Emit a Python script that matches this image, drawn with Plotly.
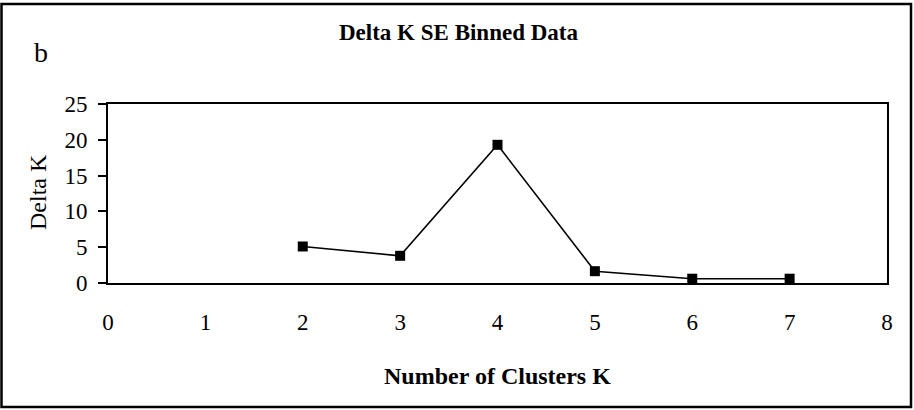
import plotly.graph_objects as go

# Data
k_values = [2, 3, 4, 5, 6, 7]
delta_k = [5.1, 3.8, 19.3, 1.65, 0.6, 0.6]
x_ticks = [0, 1, 2, 3, 4, 5, 6, 7, 8]
y_ticks = [0, 5, 10, 15, 20, 25]

W, H = 914, 410
L, R, T, B = 108, 887, 104, 283  # plot area pixel edges
pw, ph = R - L, B - T

def px(x):
    return (x - L) / pw

def py(y):
    return (B - y) / ph

FONT = "Liberation Serif, Times New Roman, serif"

fig = go.Figure()
fig.add_trace(go.Scatter(
    x=k_values, y=delta_k, mode="lines+markers",
    line=dict(color="black", width=1.6),
    marker=dict(symbol="square", size=10, color="black"),
    showlegend=False,
))

fig.update_layout(
    width=W, height=H,
    margin=dict(l=L, r=W - R, t=T, b=H - B, pad=0),
    paper_bgcolor="white", plot_bgcolor="white",
    font=dict(family=FONT, color="black", size=23),
    xaxis=dict(range=[0, 8], tickvals=x_ticks, ticktext=[str(v) for v in x_ticks],
               showgrid=False, zeroline=False, showline=True, linecolor="black",
               linewidth=2, mirror=True, ticks="", ticklabelstandoff=17,
               tickfont=dict(family=FONT, size=23, color="black")),
    yaxis=dict(range=[0, 25], tickvals=y_ticks, ticktext=[str(v) for v in y_ticks],
               showgrid=False, zeroline=False, showline=True, linecolor="black",
               linewidth=2, mirror=True, ticks="outside", ticklen=8, tickwidth=1.5,
               tickcolor="black", ticklabelstandoff=6,
               tickfont=dict(family=FONT, size=23, color="black")),
)

fig.add_annotation(text="<b>Delta K SE Binned Data</b>", x=px(458), y=py(32),
                   xref="paper", yref="paper", showarrow=False,
                   font=dict(family=FONT, size=23, color="black"),
                   xanchor="center", yanchor="middle")
fig.add_annotation(text="b", x=px(41), y=py(52), xref="paper", yref="paper",
                   showarrow=False, font=dict(family=FONT, size=28, color="black"),
                   xanchor="center", yanchor="middle")
fig.add_annotation(text="Delta K", x=px(38), y=py(192), xref="paper", yref="paper",
                   showarrow=False, textangle=-90,
                   font=dict(family=FONT, size=24, color="black"),
                   xanchor="center", yanchor="middle")
fig.add_annotation(text="<b>Number of Clusters K</b>", x=px(497), y=py(376),
                   xref="paper", yref="paper", showarrow=False,
                   font=dict(family=FONT, size=24, color="black"),
                   xanchor="center", yanchor="middle")

fig.add_shape(type="rect", xref="paper", yref="paper",
              x0=px(1.5), x1=px(911), y0=py(407), y1=py(4),
              line=dict(color="black", width=2.5), fillcolor="rgba(0,0,0,0)")

fig.write_html("out.html")
